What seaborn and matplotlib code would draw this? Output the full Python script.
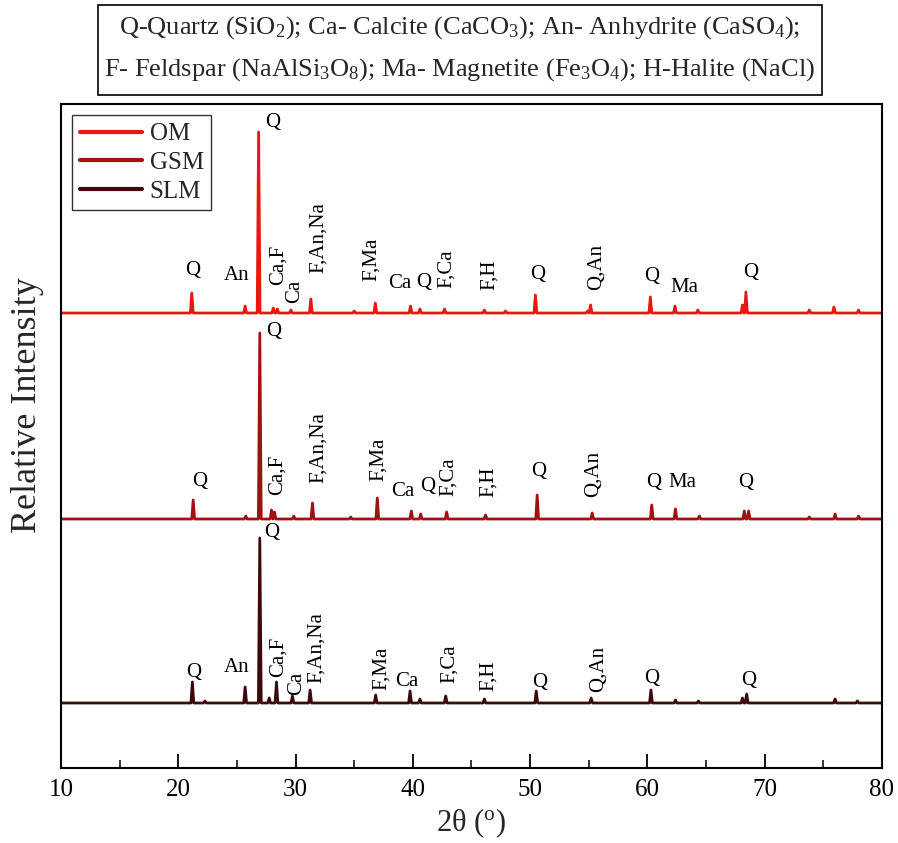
import numpy as np
import pandas as pd
import matplotlib
matplotlib.use("Agg")
import matplotlib.pyplot as plt
from matplotlib.patches import Rectangle
import seaborn as sns

# ---------------- data ----------------
samples = ["OM", "GSM", "SLM"]
offsets = [455, 249, 65]  # stacking offset of each pattern (relative intensity units)

om_pos = [21.15, 25.7, 26.85, 28.1, 28.45, 29.6, 31.3, 35.0, 36.8, 39.8, 40.6, 42.7,
          46.1, 47.9, 50.45, 54.9, 55.15, 60.25, 62.35, 64.3, 68.1, 68.4, 73.8, 75.9, 78.0]
om_int = [20, 7, 181, 5, 4, 3, 14, 2, 10, 7, 4, 4,
          3, 2, 18, 2, 8, 16, 7, 3, 8, 21, 3, 6, 3]

gsm_pos = [21.27, 25.76, 26.95, 27.95, 28.2, 29.85, 31.44, 34.7, 36.97, 39.87, 40.67, 42.88,
           46.2, 50.6, 55.29, 60.37, 62.39, 64.43, 68.26, 68.63, 73.8, 76.0, 78.0]
gsm_int = [19, 3, 186, 9, 7, 3, 16, 2, 21, 8, 5, 7,
           4, 24, 6, 14, 10, 3, 8, 8, 2, 5, 3]

slm_pos = [21.2, 22.27, 25.7, 26.95, 27.75, 28.37, 29.73, 31.24, 36.83, 39.76, 40.6, 42.8,
           46.1, 50.52, 55.2, 60.3, 62.39, 64.35, 68.1, 68.46, 76.0, 77.9]
slm_int = [21, 2, 16, 165, 5, 21, 7, 13, 8, 12, 4, 7,
           4, 12, 5, 13, 3, 2, 5, 9, 4, 2]

# peak labels: (text, 2theta, intensity position, rotated)
om_labels = [("Q", 21.23, 498, False), ("An", 24.98, 492, False), ("Q", 28.01, 645, False),
             ("Ca,F", 28.53, 503, True), ("Ca", 29.95, 477, True), ("F,An,Na", 31.94, 530, True),
             ("F,Ma", 36.49, 509, True), ("Ca", 38.90, 485, False), ("Q", 40.95, 485, False),
             ("F,Ca", 42.88, 499, True), ("F,H", 46.57, 493, True), ("Q", 50.61, 493, False),
             ("Q,An", 55.67, 501, True), ("Q", 60.36, 491, False), ("Ma", 63.14, 481, False),
             ("Q", 68.83, 496, False)]
gsm_labels = [("Q", 21.79, 286, False), ("Q", 28.10, 436, False), ("Ca,F", 28.39, 293, True),
              ("F,An,Na", 31.94, 320, True), ("F,Ma", 37.05, 309, True), ("Ca", 39.18, 276, False),
              ("Q", 41.23, 281, False), ("F,Ca", 43.02, 291, True), ("F,H", 46.43, 286, True),
              ("Q", 50.69, 296, False), ("Q,An", 55.38, 294, True), ("Q", 60.50, 285, False),
              ("Ma", 63.0, 285, False), ("Q", 68.40, 285, False)]
slm_labels = [("Q", 21.28, 96, False), ("An", 24.98, 100, False), ("Q", 27.96, 235, False),
              ("Ca,F", 28.53, 111, True), ("Ca", 30.09, 85, True), ("F,An,Na", 31.80, 120, True),
              ("F,Ma", 37.34, 100, True), ("Ca", 39.47, 86, False), ("F,Ca", 43.10, 104, True),
              ("F,H", 46.43, 92, True), ("Q", 50.84, 86, False), ("Q,An", 55.81, 99, True),
              ("Q", 60.36, 90, False), ("Q", 68.60, 88, False)]

legend_line1 = "Q-Quartz (SiO$_2$); Ca- Calcite (CaCO$_3$); An- Anhydrite (CaSO$_4$);"
legend_line2 = "F- Feldspar (NaAlSi$_3$O$_8$); Ma- Magnetite (Fe$_3$O$_4$); H-Halite (NaCl)"
x_label = "2θ ($^{\\mathrm{o}}$)"
y_label = "Relative Intensity"
x_ticks = [10, 20, 30, 40, 50, 60, 70, 80]

colors = ["#E8170F", "#A01212", "#3C0A0A"]

# ---------------- build table ----------------
def trace(pos, inten, off, name, hw=0.12):
    xs, ys = [10.0], [0.0]
    for p, h in sorted(zip(pos, inten)):
        xs += [p - hw, p, p + hw]
        ys += [0.0, h, 0.0]
    xs.append(80.0)
    ys.append(0.0)
    return pd.DataFrame({"two_theta": xs, "intensity": np.array(ys) + off, "sample": name})

df = pd.concat([
    trace(om_pos, om_int, offsets[0], samples[0]),
    trace(gsm_pos, gsm_int, offsets[1], samples[1]),
    trace(slm_pos, slm_int, offsets[2], samples[2]),
], ignore_index=True)

# ---------------- style ----------------
sns.set_theme(style="ticks")
plt.rcParams["font.family"] = ["Liberation Serif", "DejaVu Serif"]
plt.rcParams["mathtext.fontset"] = "custom"
plt.rcParams["mathtext.rm"] = "Liberation Serif"
plt.rcParams["mathtext.it"] = "Liberation Serif:italic"

W, H = 898, 843
fig = plt.figure(figsize=(W / 100, H / 100), dpi=100)
ax = fig.add_axes([61 / W, 1 - 768 / H, (882 - 61) / W, (768 - 104) / H])

sns.lineplot(data=df, x="two_theta", y="intensity", hue="sample", hue_order=samples,
             palette=colors, estimator=None, sort=False, linewidth=2.0, ax=ax)

ax.set_xlim(10, 80)
ax.set_ylim(0, 664)
ax.set_xticks(x_ticks)
ax.set_xticks(np.arange(15, 80, 10), minor=True)
ax.set_yticks([])
ax.tick_params(axis="x", which="major", direction="in", length=10, width=1.3,
               labelsize=18, pad=8, colors="black")
ax.tick_params(axis="x", which="minor", direction="in", length=6, width=1.3)
for s in ax.spines.values():
    s.set_linewidth(1.5)
    s.set_color("black")

ax.set_xlabel(x_label, fontsize=22, labelpad=4)
ax.set_ylabel(y_label, fontsize=26, labelpad=12)
ax.yaxis.label.set_y((768 - 405) / 664)

for labels in (om_labels, gsm_labels, slm_labels):
    for txt, x, y, rot in labels:
        ax.text(x, y, txt, fontsize=15, ha="center", va="center",
                rotation=90 if rot else 0, color="black")

leg = ax.legend(loc="upper left", bbox_to_anchor=(0.0134, 0.983), borderaxespad=0,
                fontsize=18, handlelength=2.5, handletextpad=0.3, labelspacing=0.25,
                frameon=True, fancybox=False, edgecolor="black", borderpad=0.3)
leg.get_frame().set_linewidth(1.0)
for line in leg.get_lines():
    line.set_linewidth(3)

# mineral key box above the plot
fig.patches.append(Rectangle((98 / W, 1 - 95 / H), (822 - 98) / W, 90 / H,
                             transform=fig.transFigure, fill=False, ec="black", lw=1.2))
fig.text(460 / W, 1 - 28 / H, legend_line1, fontsize=19, ha="center", va="center")
fig.text(460 / W, 1 - 70 / H, legend_line2, fontsize=19, ha="center", va="center")

fig.savefig("out.png", dpi=100)
